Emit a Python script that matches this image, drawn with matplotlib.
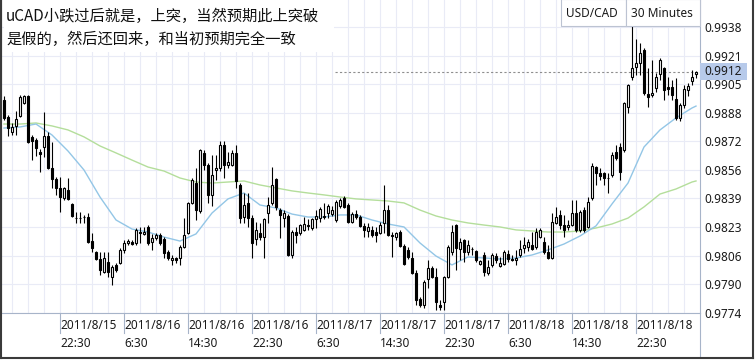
import matplotlib
matplotlib.use("Agg")
import matplotlib.pyplot as plt
import matplotlib.transforms as mtransforms
from matplotlib.patches import Rectangle
from matplotlib.lines import Line2D
import numpy as np

# USD/CAD 30 minute candles
opens = [0.98957, 0.98859, 0.98773, 0.98808, 0.98865, 0.98940, 0.98980, 0.98745, 0.98727, 0.98658,
         0.98687, 0.98750, 0.98566, 0.98503, 0.98452, 0.98394, 0.98440, 0.98360, 0.98279, 0.98279,
         0.98285, 0.98285, 0.98147, 0.98084, 0.98044, 0.97969, 0.98027, 0.97941, 0.98010, 0.98021,
         0.98096, 0.98136, 0.98142, 0.98136, 0.98199, 0.98188, 0.98228, 0.98142, 0.98165, 0.98182,
         0.98159, 0.98084, 0.98038, 0.98050, 0.98050, 0.98113, 0.98193, 0.98366, 0.98480, 0.98320,
         0.98653, 0.98584, 0.98412, 0.98555, 0.98566, 0.98699, 0.98584, 0.98584, 0.98653, 0.98469,
         0.98285, 0.98366, 0.98279, 0.98159, 0.98193, 0.98170, 0.98308, 0.98366, 0.98503, 0.98325,
         0.98279, 0.98291, 0.98067, 0.98199, 0.98193, 0.98211, 0.98239, 0.98222, 0.98274, 0.98279,
         0.98291, 0.98308, 0.98302, 0.98268, 0.98348, 0.98394, 0.98354, 0.98257, 0.98302, 0.98285,
         0.98234, 0.98205, 0.98211, 0.98199, 0.98193, 0.98251, 0.98325, 0.98182, 0.98170, 0.98199,
         0.98119, 0.98096, 0.98050, 0.97964, 0.97814, 0.97780, 0.97929, 0.97992, 0.97941, 0.97780,
         0.97797, 0.97941, 0.98084, 0.98239, 0.98101, 0.98153, 0.98084, 0.98101, 0.98090, 0.98015,
         0.98067, 0.97964, 0.98010, 0.98061, 0.98004, 0.98015, 0.98073, 0.98044, 0.98038, 0.98067,
         0.98107, 0.98113, 0.98124, 0.98113, 0.98170, 0.98142, 0.98084, 0.98050, 0.98251, 0.98297,
         0.98239, 0.98228, 0.98239, 0.98308, 0.98211, 0.98325, 0.98228, 0.98394, 0.98572, 0.98538,
         0.98538, 0.98509, 0.98526, 0.98658, 0.98687, 0.98670, 0.98917, 0.99089, 0.99146, 0.99169,
         0.99244, 0.98991, 0.98986, 0.99026, 0.99106, 0.99141, 0.99032, 0.99032, 0.98963, 0.98854,
         0.98928, 0.99014, 0.99066, 0.99106]
highs = [0.98980, 0.98871, 0.98825, 0.98894, 0.98986, 0.98986, 0.98986, 0.98756, 0.98739, 0.98676,
         0.98888, 0.98773, 0.98716, 0.98515, 0.98515, 0.98457, 0.98509, 0.98366, 0.98314, 0.98314,
         0.98297, 0.98308, 0.98193, 0.98090, 0.98084, 0.98084, 0.98084, 0.98010, 0.98021, 0.98107,
         0.98153, 0.98159, 0.98153, 0.98222, 0.98228, 0.98228, 0.98239, 0.98188, 0.98193, 0.98193,
         0.98170, 0.98096, 0.98067, 0.98056, 0.98124, 0.98279, 0.98371, 0.98509, 0.98566, 0.98676,
         0.98670, 0.98595, 0.98641, 0.98641, 0.98722, 0.98722, 0.98658, 0.98670, 0.98699, 0.98480,
         0.98423, 0.98423, 0.98297, 0.98257, 0.98251, 0.98279, 0.98400, 0.98572, 0.98509, 0.98337,
         0.98325, 0.98302, 0.98211, 0.98228, 0.98245, 0.98285, 0.98274, 0.98279, 0.98325, 0.98343,
         0.98366, 0.98360, 0.98348, 0.98383, 0.98394, 0.98406, 0.98366, 0.98314, 0.98325, 0.98297,
         0.98251, 0.98251, 0.98234, 0.98228, 0.98257, 0.98469, 0.98354, 0.98199, 0.98199, 0.98211,
         0.98130, 0.98113, 0.98084, 0.97981, 0.97826, 0.97924, 0.98038, 0.98004, 0.97992, 0.97809,
         0.97947, 0.98124, 0.98239, 0.98245, 0.98165, 0.98159, 0.98153, 0.98113, 0.98096, 0.98038,
         0.98084, 0.98038, 0.98079, 0.98079, 0.98056, 0.98096, 0.98096, 0.98067, 0.98096, 0.98153,
         0.98170, 0.98159, 0.98199, 0.98222, 0.98222, 0.98170, 0.98124, 0.98308, 0.98343, 0.98325,
         0.98297, 0.98268, 0.98383, 0.98383, 0.98325, 0.98343, 0.98400, 0.98595, 0.98578, 0.98566,
         0.98544, 0.98538, 0.98658, 0.98699, 0.98710, 0.98946, 0.99049, 0.99382, 0.99307, 0.99284,
         0.99255, 0.99141, 0.99187, 0.99112, 0.99198, 0.99146, 0.99089, 0.99072, 0.99083, 0.98940,
         0.99043, 0.99055, 0.99129, 0.99125]
lows = [0.98842, 0.98750, 0.98756, 0.98756, 0.98859, 0.98934, 0.98710, 0.98612, 0.98635, 0.98544,
        0.98630, 0.98561, 0.98452, 0.98412, 0.98314, 0.98383, 0.98383, 0.98285, 0.98251, 0.98251,
        0.98251, 0.98136, 0.98084, 0.98038, 0.97952, 0.97964, 0.97941, 0.97895, 0.97969, 0.98015,
        0.98079, 0.98124, 0.98124, 0.98124, 0.98136, 0.98182, 0.98124, 0.98096, 0.98153, 0.98124,
        0.98050, 0.98038, 0.98010, 0.98021, 0.98010, 0.98107, 0.98188, 0.98360, 0.98268, 0.98308,
        0.98555, 0.98366, 0.98348, 0.98498, 0.98549, 0.98509, 0.98566, 0.98578, 0.98452, 0.98251,
        0.98251, 0.98228, 0.98050, 0.98124, 0.98153, 0.98050, 0.98251, 0.98354, 0.98325, 0.98165,
        0.98228, 0.98061, 0.98050, 0.98136, 0.98182, 0.98205, 0.98211, 0.98211, 0.98222, 0.98257,
        0.98274, 0.98279, 0.98291, 0.98257, 0.98337, 0.98337, 0.98251, 0.98251, 0.98274, 0.98228,
        0.98170, 0.98170, 0.98170, 0.98142, 0.98188, 0.98193, 0.98176, 0.98056, 0.98153, 0.98113,
        0.98010, 0.98044, 0.97958, 0.97780, 0.97769, 0.97763, 0.97878, 0.97935, 0.97751, 0.97751,
        0.97751, 0.97935, 0.98067, 0.97981, 0.98038, 0.98027, 0.98067, 0.98067, 0.98027, 0.98010,
        0.97947, 0.97952, 0.97998, 0.98021, 0.97998, 0.98010, 0.98027, 0.98033, 0.98010, 0.98056,
        0.98079, 0.98090, 0.98096, 0.98101, 0.98165, 0.98073, 0.98044, 0.98044, 0.98245, 0.98216,
        0.98170, 0.98211, 0.98234, 0.98199, 0.98199, 0.98199, 0.98222, 0.98383, 0.98469, 0.98498,
        0.98469, 0.98423, 0.98515, 0.98612, 0.98498, 0.98658, 0.98882, 0.99072, 0.99100, 0.99100,
        0.98986, 0.98917, 0.98974, 0.99003, 0.99072, 0.98957, 0.98986, 0.98957, 0.98842, 0.98836,
        0.98911, 0.98980, 0.99043, 0.99083]
closes = [0.98854, 0.98796, 0.98802, 0.98848, 0.98974, 0.98980, 0.98716, 0.98722, 0.98681, 0.98647,
          0.98750, 0.98566, 0.98503, 0.98452, 0.98400, 0.98452, 0.98389, 0.98291, 0.98278, 0.98280,
          0.98284, 0.98142, 0.98107, 0.98044, 0.97981, 0.98050, 0.97969, 0.97998, 0.97981, 0.98096,
          0.98136, 0.98147, 0.98130, 0.98211, 0.98193, 0.98199, 0.98136, 0.98165, 0.98182, 0.98136,
          0.98079, 0.98050, 0.98050, 0.98038, 0.98113, 0.98182, 0.98366, 0.98498, 0.98325, 0.98670,
          0.98584, 0.98412, 0.98526, 0.98566, 0.98699, 0.98584, 0.98601, 0.98653, 0.98492, 0.98279,
          0.98354, 0.98279, 0.98136, 0.98211, 0.98170, 0.98274, 0.98354, 0.98469, 0.98343, 0.98297,
          0.98308, 0.98067, 0.98199, 0.98182, 0.98239, 0.98245, 0.98234, 0.98274, 0.98291, 0.98331,
          0.98285, 0.98348, 0.98325, 0.98371, 0.98383, 0.98343, 0.98257, 0.98302, 0.98285, 0.98234,
          0.98211, 0.98228, 0.98182, 0.98182, 0.98239, 0.98325, 0.98182, 0.98176, 0.98193, 0.98119,
          0.98015, 0.98056, 0.97964, 0.97809, 0.97780, 0.97912, 0.97992, 0.97941, 0.97797, 0.97769,
          0.97941, 0.98113, 0.98199, 0.98107, 0.98142, 0.98084, 0.98124, 0.98100, 0.98038, 0.98033,
          0.97969, 0.97998, 0.98067, 0.98038, 0.98021, 0.98084, 0.98044, 0.98038, 0.98050, 0.98101,
          0.98124, 0.98142, 0.98101, 0.98199, 0.98211, 0.98084, 0.98050, 0.98257, 0.98285, 0.98239,
          0.98211, 0.98239, 0.98308, 0.98211, 0.98314, 0.98211, 0.98371, 0.98578, 0.98538, 0.98521,
          0.98509, 0.98508, 0.98641, 0.98624, 0.98544, 0.98940, 0.99043, 0.99141, 0.99169, 0.99227,
          0.98997, 0.98974, 0.98997, 0.99089, 0.99187, 0.99014, 0.99020, 0.98986, 0.98854, 0.98928,
          0.99020, 0.99037, 0.99089, 0.99120]

# moving averages, read every 4th candle
ma_pos = list(range(0, 173, 4)) + [173]
ma_fast = [0.98796, 0.98802, 0.98819, 0.98756, 0.98664, 0.98555, 0.98400, 0.98268, 0.98216, 0.98199,
           0.98170, 0.98147, 0.98188, 0.98308, 0.98389, 0.98423, 0.98354, 0.98337, 0.98302, 0.98285,
           0.98285, 0.98297, 0.98297, 0.98268, 0.98245, 0.98228, 0.98136, 0.98061, 0.98010, 0.98056,
           0.98050, 0.98044, 0.98050, 0.98067, 0.98096, 0.98130, 0.98176, 0.98234, 0.98360, 0.98480,
           0.98687, 0.98785, 0.98854, 0.98911, 0.98922]
ma_slow = [0.98819, 0.98819, 0.98825, 0.98808, 0.98785, 0.98745, 0.98693, 0.98653, 0.98612, 0.98572,
           0.98549, 0.98509, 0.98486, 0.98480, 0.98486, 0.98492, 0.98469, 0.98452, 0.98435, 0.98423,
           0.98412, 0.98400, 0.98389, 0.98383, 0.98377, 0.98366, 0.98325, 0.98291, 0.98268, 0.98251,
           0.98239, 0.98228, 0.98211, 0.98205, 0.98199, 0.98199, 0.98205, 0.98222, 0.98245, 0.98279,
           0.98343, 0.98417, 0.98446, 0.98486, 0.98492]

price_ticks = [0.97736, 0.97900, 0.98064, 0.98228, 0.98392, 0.98556,
               0.98720, 0.98884, 0.99048, 0.99212, 0.99376]
price_labels = ["0.9774", "0.9790", "0.9806", "0.9823", "0.9839", "0.9856",
                "0.9872", "0.9888", "0.9905", "0.9921", "0.9938"]
time_pos = [14, 30, 46, 62, 78, 94, 110, 126, 142, 158]
time_labels = ["2011/8/15\n22:30", "2011/8/16\n6:30", "2011/8/16\n14:30", "2011/8/16\n22:30",
               "2011/8/17\n6:30", "2011/8/17\n14:30", "2011/8/17\n22:30", "2011/8/18\n6:30",
               "2011/8/18\n14:30", "2011/8/18\n22:30"]
note = "uCAD小跌过后就是，上突，当然预期此上突破\n是假的，然后还回来，和当初预期完全一致"

W, H = 755, 360
plt.rcParams['font.family'] = ['Noto Sans', 'DejaVu Sans']
grid_c = '#e9ebf6'
spine_c = '#a7b4c9'

fig = plt.figure(figsize=(W / 100, H / 100), dpi=100)
ax = fig.add_axes([1 / W, 47 / H, 699 / W, 313 / H])
ax.set_xlim(-0.75, 174)
ax.set_ylim(0.97734, 0.99531)

o = np.array(opens); hi = np.array(highs); lo = np.array(lows); c = np.array(closes)
x = np.arange(len(o))
up = c >= o

ax.plot(ma_pos, ma_slow, color='#b4de9b', lw=1.0, zorder=2)
ax.plot(ma_pos, ma_fast, color='#93c6e6', lw=1.0, zorder=2)
ax.vlines(x, lo, hi, color='black', lw=0.8, zorder=3)
ax.bar(x[up], c[up] - o[up], bottom=o[up], width=0.72, facecolor='white',
       edgecolor='black', linewidth=0.8, zorder=4)
ax.bar(x[~up], c[~up] - o[~up], bottom=o[~up], width=0.72, facecolor='black',
       edgecolor='black', linewidth=0.8, zorder=4)

# grid
ax.set_yticks(price_ticks)
ax.set_yticklabels(price_labels)
ax.set_xticks(time_pos)
ax.set_xticklabels(time_labels, ha='left', linespacing=1.5)
ax.set_xticks(np.arange(2, 174, 4), minor=True)
ax.grid(True, which='both', color=grid_c, lw=0.8, zorder=0)
ax.set_axisbelow(True)
ax.yaxis.tick_right()
ax.tick_params(axis='y', which='both', length=0, pad=3, labelsize=8.5, labelcolor='#1a1a1a')
ax.tick_params(axis='x', which='both', length=0, pad=4.5, labelsize=8.5, labelcolor='#1a1a1a')
ax.spines['top'].set_visible(False)
ax.spines['left'].set_color('#3a3a3a')
ax.spines['left'].set_linewidth(1.5)
ax.spines['bottom'].set_color(spine_c)
ax.spines['right'].set_color(spine_c)

# tick separators below the axis
trans = mtransforms.blended_transform_factory(ax.transData, ax.transAxes)
for p in time_pos:
    ax.plot([p, p], [0, -20 / 313], transform=trans, color=spine_c, lw=0.8, clip_on=False)

# current price line and label
last = closes[-1]
ax.axhline(last, xmin=334 / 699, xmax=1, color='#8e8e8e', lw=0.8, ls=(0, (2, 2)), zorder=1)
tr_r = mtransforms.blended_transform_factory(ax.transAxes, ax.transData)
box_h = 17 / 17420
ax.add_patch(Rectangle((1.0, last - box_h / 2), 47 / 699, box_h, transform=tr_r,
                       facecolor='#b7caea', edgecolor='none', clip_on=False, zorder=6))
ax.text(1.0 + 4 / 699, last, "%.4f" % last, transform=tr_r, va='center', ha='left',
        fontsize=8.5, color='#1a1a1a', zorder=7, clip_on=False)


def fig_rect(x0, y0, x1, y1, **kw):
    fig.add_artist(Rectangle((x0 / W, 1 - y1 / H), (x1 - x0) / W, (y1 - y0) / H,
                             transform=fig.transFigure, **kw))


def fig_line(x0, y0, x1, y1, **kw):
    fig.add_artist(Line2D([x0 / W, x1 / W], [1 - y0 / H, 1 - y1 / H],
                          transform=fig.transFigure, **kw))


# symbol / period boxes
fig_rect(560.5, -1, 626, 26, facecolor='white', edgecolor='#bcc3d2', lw=0.8)
fig_rect(626, -1, 699.5, 26, facecolor='white', edgecolor='#bcc3d2', lw=0.8)
fig.text(566 / W, 1 - 13.5 / H, "USD/CAD", fontsize=8.5, va='center', color='#1a1a1a')
fig.text(631 / W, 1 - 13.5 / H, "30 Minutes", fontsize=8.5, va='center', color='#1a1a1a')

# annotation text
fig_rect(4, 0, 334, 52, facecolor='white', edgecolor='none')
fig.text(6 / W, 1 - 28 / H, note, fontsize=11, va='center', ha='left', linespacing=1.45,
         color='#111111', family=['Noto Sans CJK SC', 'DejaVu Sans'])

# outer frame and right panel divider
fig_line(700, 313, 700, 357, color=spine_c, lw=0.8)
fig_line(0.7, 0, 0.7, 357.5, color='#3a3a3a', lw=1.5)
fig_line(0, 357.5, 753, 357.5, color='#3a3a3a', lw=1.5)
fig_line(752.5, 0, 752.5, 357.5, color='#3a3a3a', lw=1.5)

fig.savefig("out.png", dpi=100)
